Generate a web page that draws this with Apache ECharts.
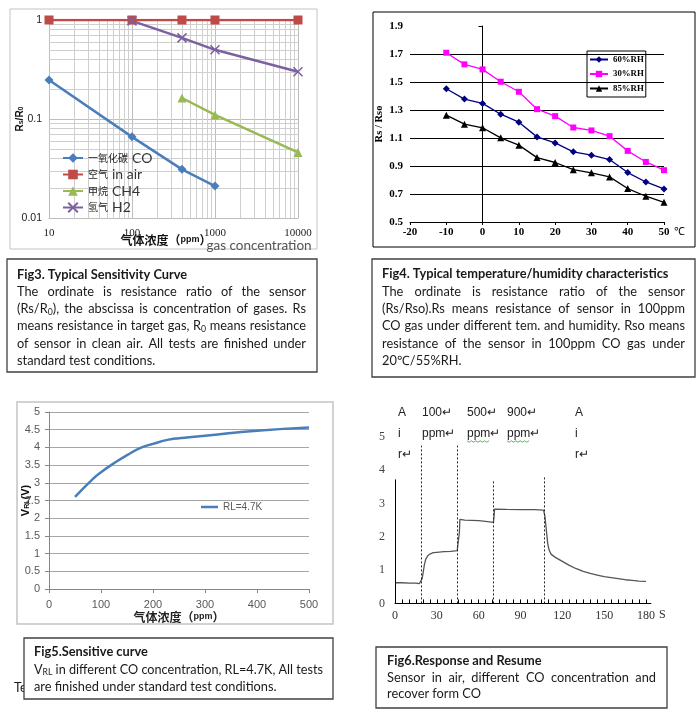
<!DOCTYPE html>
<html><head><meta charset="utf-8">
<script src="https://cdn.jsdelivr.net/npm/echarts@6.0.0/dist/echarts.min.js"></script>
<style>html,body{margin:0;padding:0;background:#fff}#c{width:700px;height:714px}</style>
</head><body><div id="c"></div>
<script>
// ---------- Fig3 data (log-log sensitivity) ----------
const coPpm = [10, 100, 400, 1000];
const coRatio = [0.248, 0.066, 0.031, 0.021];
const airPpm = [10, 100, 400, 1000, 10000];
const airRatio = [1, 1, 1, 1, 1];
const ch4Ppm = [400, 1000, 10000];
const ch4Ratio = [0.163, 0.11, 0.046];
const h2Ppm = [100, 400, 1000, 10000];
const h2Ratio = [0.98, 0.66, 0.50, 0.30];
const fig3SeriesNames = ['一氧化碳 CO', '空气 in air', '甲烷 CH4', '氢气 H2'];
const fig3MinorX = [20,30,40,50,60,70,80,90,200,300,400,500,600,700,800,900,2000,3000,4000,5000,6000,7000,8000,9000];
const fig3MinorY = [0.02,0.03,0.04,0.05,0.06,0.07,0.08,0.09,0.2,0.3,0.4,0.5,0.6,0.7,0.8,0.9];

// ---------- Fig4 data (temperature / humidity) ----------
const tempC = [-10, -5, 0, 5, 10, 15, 20, 25, 30, 35, 40, 45, 50];
const rh60 = [1.452, 1.378, 1.347, 1.270, 1.213, 1.108, 1.065, 1.001, 0.977, 0.946, 0.853, 0.786, 0.736];
const rh30 = [1.709, 1.626, 1.590, 1.502, 1.430, 1.306, 1.256, 1.175, 1.154, 1.113, 1.008, 0.929, 0.870];
const rh85 = [1.263, 1.199, 1.173, 1.101, 1.049, 0.960, 0.925, 0.874, 0.851, 0.822, 0.739, 0.684, 0.641];
const fig4SeriesNames = ['60%RH', '30%RH', '85%RH'];
const fig4YTicks = [0.5, 0.7, 0.9, 1.1, 1.3, 1.5, 1.7, 1.9];

// ---------- Fig5 data (VRL vs CO) ----------
const vrlPpm = [50, 85, 100, 130, 150, 175, 200, 230, 250, 300, 400, 500];
const vrlVolt = [2.6, 3.12, 3.3, 3.6, 3.78, 3.98, 4.1, 4.22, 4.26, 4.33, 4.47, 4.56];

// ---------- Fig6 data (response & resume) ----------
const respTime = [0,5,10,15,17.5,18.8,19.5,20.3,21,22,23.5,25,27.5,30,35,40,44.6,46.2,46.5,50,55,60,65,70.6,71,71.4,80,90,100,106.5,107.5,108.5,109.5,110.5,112,115,120,125,130,135,140,145,150,155,160,165,170,175,180];
const respVolt = [0.62,0.62,0.61,0.61,0.59,0.6,0.75,0.95,1.15,1.32,1.43,1.48,1.52,1.53,1.55,1.56,1.58,2.15,2.52,2.5,2.49,2.48,2.46,2.43,2.6,2.83,2.82,2.81,2.81,2.8,2.62,2.2,1.8,1.6,1.47,1.38,1.26,1.14,1.04,0.96,0.9,0.85,0.8,0.77,0.74,0.71,0.69,0.67,0.66];
const respMarks = [19.1, 44.7, 70.8, 106.9];
const respMarkTops = [4.73, 4.73, 3.71, 3.83];
const respAxisTop = 3.72;
const fig6XLabels = [0, 30, 60, 90, 120, 150, 180];
const fig6XTicks = [0,5,10,15,20,25,30,35,40,45,50,55,60,65,70,75,80,85,90,95,100,105,110,115,120,125,130,135,140,145,150,155,160,165,170,175,180];
const fig6TopLabels = [['A','i','r↵'], ['100↵','ppm↵'], ['500↵','ppm↵'], ['900↵','ppm↵'], ['A','i','r↵']];

// ---------- Caption texts ----------
const fig3Title = 'Fig3. Typical Sensitivity Curve';
const fig3Lines = [
  'The ordinate is resistance ratio of the sensor',
  '(Rs/R_{0}), the abscissa is concentration of gases. Rs',
  'means resistance in target gas, R_{0} means resistance',
  'of sensor in clean air. All tests are finished under',
  'standard test conditions.'
];
const fig4Title = 'Fig4. Typical temperature/humidity characteristics';
const fig4Lines = [
  'The ordinate is resistance ratio of the sensor',
  '(Rs/Rso).Rs means resistance of sensor in 100ppm',
  'CO gas under different tem. and humidity. Rso means',
  'resistance of the sensor in 100ppm CO gas under',
  '20℃/55%RH.'
];
const fig5Title = 'Fig5.Sensitive curve';
const fig5Lines = [
  'V_{RL} in different CO concentration, RL=4.7K, All tests',
  'are finished under standard test conditions.'
];
const fig6Title = 'Fig6.Response and Resume';
const fig6Lines = [
  'Sensor in air, different CO concentration and',
  'recover form CO'
];

// ---------- helpers ----------
const zip = (xs, ys) => xs.map((x, i) => [x, ys[i]]);
const cv = document.createElement('canvas').getContext('2d');
const FAMILY = 'Lato';
const BODY = 12.8;
const fontOf = (size, bold) => (bold ? 'bold ' : '') + size + 'px ' + FAMILY;
function tw(s, font) { cv.font = font; return cv.measureText(s).width; }
function parts(word) {
  const out = []; const re = /_\{([^}]*)\}/g; let last = 0, m;
  while ((m = re.exec(word))) {
    if (m.index > last) out.push({ t: word.slice(last, m.index), sub: false });
    out.push({ t: m[1], sub: true }); last = re.lastIndex;
  }
  if (last < word.length) out.push({ t: word.slice(last), sub: false });
  return out;
}
function wordWidth(w, size, bold) {
  return parts(w).reduce((a, p) => a + tw(p.t, fontOf(p.sub ? size * 0.68 : size, bold)), 0);
}
function placeWord(out, w, x, y, size, bold, sx) {
  let cx = x;
  parts(w).forEach(p => {
    const f = fontOf(p.sub ? size * 0.68 : size, bold);
    out.push({ type: 'text', x: cx, y: y + (p.sub ? 3 : 0), scaleX: sx, silent: true, z: 20,
      style: { text: p.t, font: f, fill: '#1a1a1a', align: 'left', verticalAlign: 'middle' } });
    cx += tw(p.t, f) * sx;
  });
}
function textLine(out, line, x0, x1, y, justify, size, bold) {
  const words = line.split(' ');
  const ws = words.map(w => wordWidth(w, size, bold));
  const total = ws.reduce((a, b) => a + b, 0);
  const sp = tw(' ', fontOf(size, bold));
  const natural = total + sp * (words.length - 1);
  const sx = Math.min(1, (x1 - x0) / natural);
  const gap = (justify && words.length > 1) ? (x1 - x0 - total * sx) / (words.length - 1) : sp * sx;
  let x = x0;
  words.forEach((w, i) => { placeWord(out, w, x, y, size, bold, sx); x += ws[i] * sx + gap; });
}
function caption(out, box, title, lines, x0, x1, y0, step) {
  out.push({ type: 'rect', z: 15, silent: true, shape: box, style: { fill: '#fff', stroke: '#404040', lineWidth: 1.3 } });
  textLine(out, title, x0, x1, y0, false, BODY, true);
  lines.forEach((l, i) => textLine(out, l, x0, x1, y0 + step * (i + 1), i < lines.length - 1, BODY, false));
}

const graphics = [];
// chart frames
graphics.push({ type: 'rect', silent: true, shape: { x: 10, y: 9, width: 307, height: 240 }, style: { fill: 'none', stroke: '#c3c3c3', lineWidth: 1 } });
graphics.push({ type: 'rect', silent: true, shape: { x: 373, y: 12, width: 322, height: 235 }, style: { fill: 'none', stroke: '#000', lineWidth: 1 } });
graphics.push({ type: 'rect', silent: true, shape: { x: 17, y: 402, width: 316, height: 222 }, style: { fill: 'none', stroke: '#c3c3c3', lineWidth: 1.5 } });
// Fig3 axis titles
graphics.push({ type: 'text', x: 166, y: 240, silent: true, style: { text: '{a|气体浓度（}{b|ppm}{a|）}', align: 'center', verticalAlign: 'middle',
  rich: { a: { fontFamily: 'Noto Sans CJK SC', fontWeight: 'bold', fontSize: 12, fill: '#111' }, b: { fontFamily: 'Liberation Sans', fontWeight: 'bold', fontSize: 9, fill: '#111' } } } });
graphics.push({ type: 'text', x: 259, y: 246, silent: true, style: { text: 'gas concentration', font: '13.5px Lato', fill: '#555', align: 'center', verticalAlign: 'middle' } });
// Fig5 hidden text behind caption
graphics.push({ type: 'text', x: 14, y: 688, silent: true, z: 10, style: { text: 'Te', font: fontOf(BODY, false), fill: '#1a1a1a', align: 'left', verticalAlign: 'middle' } });
// Fig6 top labels
const topXs = [398, 422, 467, 507, 575];
const topYs = [413, 434, 455];
fig6TopLabels.forEach((col, ci) => col.forEach((t, ri) => {
  graphics.push({ type: 'text', x: topXs[ci], y: topYs[ri], silent: true, style: { text: t, font: '12px "Liberation Sans"', fill: '#222', align: 'left', verticalAlign: 'middle' } });
}));
[467, 507].forEach(x0 => {
  const pts = []; for (let i = 0; i <= 10; i++) pts.push([x0 + i * 2.2, 441 + (i % 2 ? 1.2 : -0.2)]);
  graphics.push({ type: 'polyline', silent: true, shape: { points: pts }, style: { stroke: '#3a9a3a', lineWidth: 0.8, fill: 'none' } });
});
// captions
caption(graphics, { x: 7, y: 259, width: 310, height: 113 }, fig3Title, fig3Lines, 17, 306, 275, 17.1);
caption(graphics, { x: 372, y: 259, width: 323, height: 118 }, fig4Title, fig4Lines, 382, 685, 274, 17.4);
caption(graphics, { x: 24, y: 638, width: 309, height: 61 }, fig5Title, fig5Lines, 34, 323, 652, 17.5);
caption(graphics, { x: 376, y: 647, width: 291, height: 61 }, fig6Title, fig6Lines, 387, 656, 661, 16.5);

const serif = 'Liberation Serif';
const option = {
  animation: false,
  backgroundColor: '#fff',
  grid: [
    { left: 49, top: 20, width: 249, height: 198, outerBoundsMode: 'none' },
    { left: 410, top: 26, width: 254, height: 196, outerBoundsMode: 'none' },
    { left: 49, top: 412, width: 260, height: 177, outerBoundsMode: 'none' },
    { left: 395, top: 436.7, width: 255.9, height: 166.7, outerBoundsMode: 'none' }
  ],
  xAxis: [
    { gridIndex: 0, type: 'log', logBase: 10, min: 10, max: 10000,
      axisLine: { lineStyle: { color: '#bdbdbd' } }, axisTick: { show: false },
      axisLabel: { fontFamily: serif, fontSize: 11, color: '#222', margin: 10, formatter: v => String(v) },
      splitLine: { show: true, lineStyle: { color: '#bdbdbd' } } },
    { gridIndex: 1, type: 'value', min: -20, max: 50, interval: 10,
      axisLine: { lineStyle: { color: '#000' } }, axisTick: { show: true, length: 3, lineStyle: { color: '#000' } },
      axisLabel: { fontFamily: serif, fontSize: 11, fontWeight: 'bold', color: '#000', margin: 5 },
      splitLine: { show: false },
      name: '℃', nameLocation: 'end', nameGap: 10, nameMoveOverlap: false,
      nameTextStyle: { fontFamily: serif, fontSize: 11, color: '#000', verticalAlign: 'top', padding: [5, 0, 0, 0] } },
    { gridIndex: 2, type: 'value', min: 0, max: 500, interval: 100,
      axisLine: { lineStyle: { color: '#868686' } }, axisTick: { show: true, length: 4, lineStyle: { color: '#868686' } },
      axisLabel: { fontFamily: 'Liberation Sans', fontSize: 11, color: '#595959', margin: 10 },
      splitLine: { show: false },
      name: '{a|气体浓度（}{b|ppm}{a|）}', nameLocation: 'middle', nameGap: 22, nameMoveOverlap: false,
      nameTextStyle: { rich: { a: { fontFamily: 'Noto Sans CJK SC', fontWeight: 'bold', fontSize: 12, color: '#222' }, b: { fontFamily: 'Liberation Sans', fontWeight: 'bold', fontSize: 9, color: '#222' } } } },
    { gridIndex: 3, type: 'value', min: 0, max: 183.5,
      axisLine: { lineStyle: { color: '#000' } },
      axisTick: { show: true, inside: true, length: 4, customValues: fig6XTicks, lineStyle: { color: '#000' } },
      axisLabel: { customValues: fig6XLabels, fontFamily: serif, fontSize: 12, color: '#333', margin: 6 },
      splitLine: { show: false },
      name: 'S', nameLocation: 'end', nameGap: 8, nameMoveOverlap: false,
      nameTextStyle: { fontFamily: serif, fontSize: 12, color: '#333', verticalAlign: 'top', padding: [5, 0, 0, 0] } }
  ],
  yAxis: [
    { gridIndex: 0, type: 'log', logBase: 10, min: 0.01, max: 1,
      axisLine: { show: true, lineStyle: { color: '#bdbdbd' } }, axisTick: { show: false },
      axisLabel: { fontFamily: 'Liberation Sans', fontSize: 10.5, color: '#222', margin: 7, formatter: v => String(+(+v).toPrecision(3)) },
      splitLine: { show: true, lineStyle: { color: '#bdbdbd' } },
      name: '{a|R}{b|s}{a|/R}{b|0}', nameLocation: 'middle', nameGap: 24, nameRotate: 90, nameMoveOverlap: false,
      nameTextStyle: { rich: { a: { fontFamily: 'Liberation Sans', fontWeight: 'bold', fontSize: 10, color: '#111' }, b: { fontFamily: 'Liberation Sans', fontWeight: 'bold', fontSize: 7, color: '#111', verticalAlign: 'bottom' } } } },
    { gridIndex: 1, type: 'value', min: 0.5, max: 1.9,
      axisLine: { show: true, lineStyle: { color: '#000' } },
      axisTick: { show: true, length: 4, customValues: fig4YTicks, lineStyle: { color: '#000' } },
      axisLabel: { customValues: fig4YTicks, fontFamily: serif, fontSize: 11, fontWeight: 'bold', color: '#000', margin: 7, formatter: v => (+v).toFixed(1) },
      splitLine: { show: true, showMinLine: false, showMaxLine: false, lineStyle: { color: '#000', width: 1 } },
      name: 'Rs / Rso', nameLocation: 'middle', nameGap: 25, nameRotate: 90, nameMoveOverlap: false,
      nameTextStyle: { fontFamily: serif, fontWeight: 'bold', fontSize: 10.5, color: '#000' } },
    { gridIndex: 2, type: 'value', min: 0, max: 5, interval: 0.5,
      axisLine: { show: true, lineStyle: { color: '#868686' } }, axisTick: { show: true, length: 4, lineStyle: { color: '#868686' } },
      axisLabel: { fontFamily: 'Liberation Sans', fontSize: 11, color: '#595959', margin: 9 },
      splitLine: { show: true, lineStyle: { color: '#a6a6a6' } },
      name: '{a|V}{b|RL}{a|(V)}', nameLocation: 'middle', nameGap: 18, nameRotate: 90, nameMoveOverlap: false,
      nameTextStyle: { rich: { a: { fontFamily: 'Liberation Sans', fontWeight: 'bold', fontSize: 11, color: '#111' }, b: { fontFamily: 'Liberation Sans', fontWeight: 'bold', fontSize: 7, color: '#111', verticalAlign: 'bottom' } } } },
    { gridIndex: 3, type: 'value', min: 0, max: 5, interval: 1,
      axisLine: { show: false }, axisTick: { show: false },
      axisLabel: { fontFamily: serif, fontSize: 12, color: '#444', margin: 10 },
      splitLine: { show: false } }
  ],
  legend: [
    { data: fig3SeriesNames, orient: 'vertical', left: 57, top: 146, itemWidth: 20, itemHeight: 12, itemGap: 2.5,
      formatter: n => { const i = n.indexOf(' '); return '{cn|' + n.slice(0, i) + '}{en|' + n.slice(i + 1) + '}'; },
      textStyle: { rich: { cn: { fontFamily: 'Noto Sans CJK SC', fontSize: 10, color: '#222' }, en: { fontFamily: 'Lato', fontSize: 14, color: '#333', padding: [0, 0, 0, 4] } } } },
    { data: fig4SeriesNames, orient: 'vertical', left: 587, top: 51, borderColor: '#000', borderWidth: 1, padding: [4, 2, 4, 2],
      itemWidth: 18, itemHeight: 8, itemGap: 5.5,
      textStyle: { fontFamily: serif, fontSize: 8.8, fontWeight: 'bold', color: '#000' } },
    { data: ['RL=4.7K'], left: 196, top: 497, itemWidth: 17, itemHeight: 2.5, icon: 'rect',
      textStyle: { fontFamily: 'Liberation Sans', fontSize: 10, color: '#595959' } }
  ],
  graphic: { elements: graphics },
  series: [
    { type: 'line', xAxisIndex: 0, yAxisIndex: 0, data: [], silent: true, z: 1,
      markLine: { z: 1, silent: true, symbol: ['none', 'none'], label: { show: false }, animation: false,
        lineStyle: { type: 'solid', color: '#cfcfcf', width: 1 },
        data: fig3MinorX.map(v => ({ xAxis: v })).concat(fig3MinorY.map(v => ({ yAxis: v }))) } },
    { name: fig3SeriesNames[0], type: 'line', z: 3, xAxisIndex: 0, yAxisIndex: 0, data: zip(coPpm, coRatio),
      symbol: 'diamond', symbolSize: 9, lineStyle: { width: 2.5, color: '#4a7ebb' }, itemStyle: { color: '#4a7ebb' } },
    { name: fig3SeriesNames[1], type: 'line', z: 3, xAxisIndex: 0, yAxisIndex: 0, data: zip(airPpm, airRatio),
      symbol: 'rect', symbolSize: 9, lineStyle: { width: 2.5, color: '#be4b48' }, itemStyle: { color: '#be4b48' } },
    { name: fig3SeriesNames[2], type: 'line', z: 3, xAxisIndex: 0, yAxisIndex: 0, data: zip(ch4Ppm, ch4Ratio),
      symbol: 'triangle', symbolSize: 9, lineStyle: { width: 2.5, color: '#98b954' }, itemStyle: { color: '#98b954' } },
    { name: fig3SeriesNames[3], type: 'line', z: 3, xAxisIndex: 0, yAxisIndex: 0, data: zip(h2Ppm, h2Ratio),
      symbol: 'path://M0,0L10,10M10,0L0,10', symbolSize: 9, lineStyle: { width: 2.5, color: '#7d60a0' },
      itemStyle: { color: '#7d60a0', borderColor: '#7d60a0', borderWidth: 1.5 } },

    { name: fig4SeriesNames[0], type: 'line', xAxisIndex: 1, yAxisIndex: 1, data: zip(tempC, rh60),
      symbol: 'diamond', symbolSize: 7, lineStyle: { width: 1.3, color: '#000080' }, itemStyle: { color: '#000080' } },
    { name: fig4SeriesNames[1], type: 'line', xAxisIndex: 1, yAxisIndex: 1, data: zip(tempC, rh30),
      symbol: 'rect', symbolSize: 6, lineStyle: { width: 1.3, color: '#ff00ff' }, itemStyle: { color: '#ff00ff' } },
    { name: fig4SeriesNames[2], type: 'line', xAxisIndex: 1, yAxisIndex: 1, data: zip(tempC, rh85),
      symbol: 'triangle', symbolSize: 7, lineStyle: { width: 1.3, color: '#000' }, itemStyle: { color: '#000' } },

    { name: 'RL=4.7K', type: 'line', xAxisIndex: 2, yAxisIndex: 2, data: zip(vrlPpm, vrlVolt), smooth: true,
      symbol: 'none', lineStyle: { width: 2.5, color: '#4a7ebb' }, itemStyle: { color: '#4a7ebb' } },

    { name: 'response', type: 'line', xAxisIndex: 3, yAxisIndex: 3, data: zip(respTime, respVolt),
      symbol: 'none', lineStyle: { width: 1.3, color: '#555' }, itemStyle: { color: '#555' },
      markLine: { silent: true, symbol: ['none', 'none'], label: { show: false }, animation: false,
        lineStyle: { type: [2, 2], color: '#222', width: 1 },
        data: [[{ coord: [0, 0], lineStyle: { type: 'solid', color: '#000', width: 1 } }, { coord: [0, respAxisTop] }]]
          .concat(respMarks.map((t, i) => [{ coord: [t, 0] }, { coord: [t, respMarkTops[i]] }])) } }
  ]
};
const chart = echarts.init(document.getElementById('c'), null, { renderer: 'canvas' });
chart.setOption(option);
</script></body></html>
